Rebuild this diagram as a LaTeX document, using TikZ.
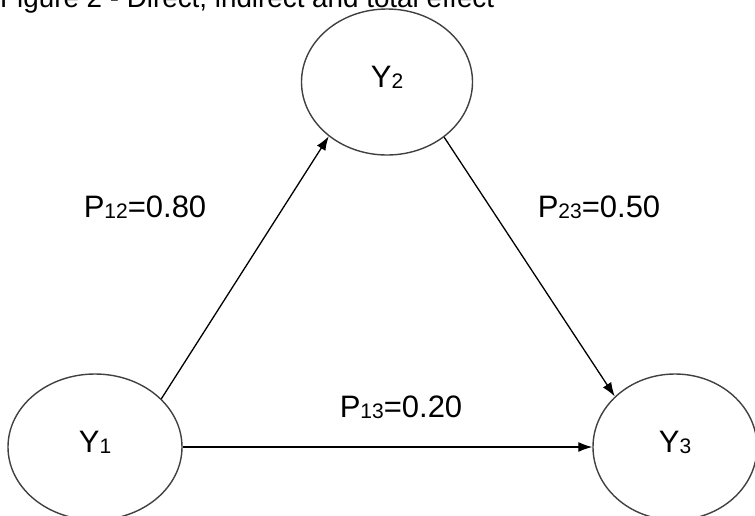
\documentclass[tikz,border=0pt]{standalone}
\usepackage{fontspec}
\setmainfont{Liberation Sans}
\usetikzlibrary{shapes.geometric,arrows.meta}
\newcommand{\idx}[1]{\raisebox{-1pt}{\fontsize{21}{21}\selectfont #1}}
\tikzset{
  var/.style={ellipse, draw=black!75, line width=1.4pt, inner sep=0pt,
    minimum height=146pt, text height=10pt, text depth=0pt},
  coef/.style={anchor=base, inner sep=0pt}
}
\begin{document}
\begin{tikzpicture}[x=1pt, y=-1pt, >={Latex[length=14pt,width=10pt]},
  font=\fontsize{31}{37}\selectfont]
\useasboundingbox (0,0) rectangle (755,515);
\clip (0,0) rectangle (755,515);
% titulo
\node[anchor=base west, inner sep=0pt, font=\fontsize{27.8}{33}\selectfont] (title) at (0,7)
  {Figure 2 - Direct, indirect and total effect};
% variaveis
\node[var, minimum width=174pt] (Y1) at (95,447) {Y\idx{1}};
\node[var, minimum width=171pt] (Y2) at (387,82) {Y\idx{2}};
\node[var, minimum width=164pt] (Y3) at (675,447) {Y\idx{3}};
% efeitos
\draw[->, line width=1.3pt] (Y1.36) -- (Y2.223);
\draw[->, line width=1.3pt] (Y2.-44) -- (Y3.140);
\draw[->, line width=1.3pt] (Y1) -- (Y3);
% coeficientes
\node[coef] (p12) at (145,217) {P\idx{12}=0.80};
\node[coef] (p23) at (599,217) {P\idx{23}=0.50};
\node[coef] (p13) at (401,417) {P\idx{13}=0.20};
\end{tikzpicture}
\end{document}
